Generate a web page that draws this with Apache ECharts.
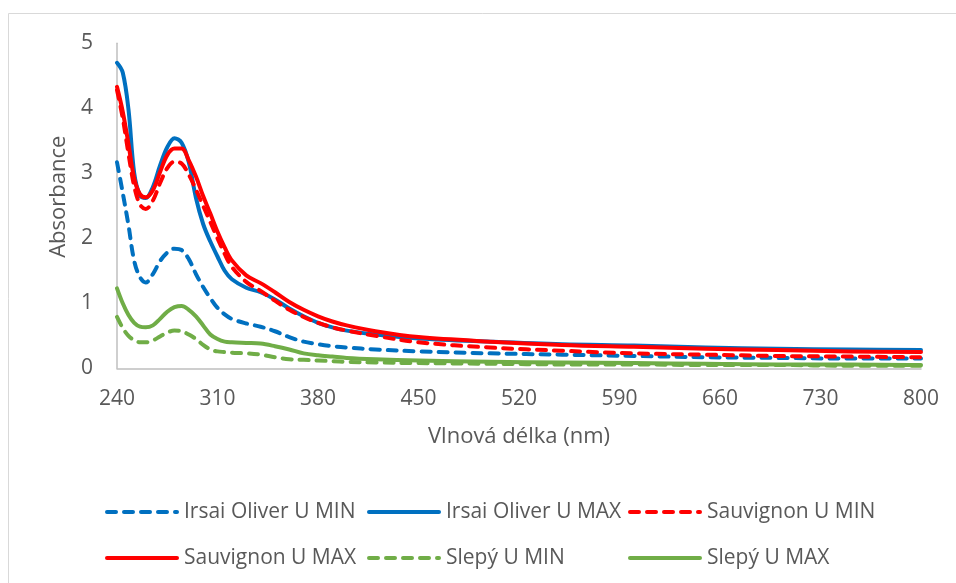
<!DOCTYPE html>
<html>
<head>
<meta charset="utf-8">
<script src="https://cdn.jsdelivr.net/npm/echarts@6/dist/echarts.min.js"></script>
<style>html,body{margin:0;padding:0;background:#fff}#c{width:956px;height:583px}</style>
</head>
<body>
<div id="c"></div>
<script>
const wavelengths = [240,244,248,252,256,260,265,270,275,280,285,290,295,300,305,310,315,320,330,340,350,360,370,380,390,400,420,450,500,550,600,650,700,750,800];
const irsaiMin   = [3.17,2.70,2.20,1.65,1.40,1.32,1.45,1.65,1.78,1.84,1.82,1.68,1.45,1.25,1.08,0.93,0.83,0.76,0.69,0.64,0.57,0.48,0.41,0.37,0.34,0.32,0.29,0.26,0.23,0.21,0.19,0.17,0.16,0.15,0.15];
const irsaiMax   = [4.70,4.55,3.98,3.00,2.66,2.62,2.79,3.12,3.40,3.54,3.47,3.17,2.62,2.22,1.95,1.72,1.50,1.37,1.24,1.17,1.06,0.92,0.80,0.70,0.63,0.58,0.52,0.46,0.41,0.37,0.35,0.32,0.30,0.29,0.28];
const sauvMin    = [4.28,3.85,3.30,2.80,2.52,2.45,2.58,2.85,3.08,3.18,3.15,2.98,2.75,2.50,2.25,2.00,1.76,1.56,1.33,1.19,1.04,0.90,0.79,0.70,0.63,0.58,0.50,0.40,0.32,0.27,0.23,0.21,0.19,0.18,0.17];
const sauvMax    = [4.33,3.95,3.45,2.92,2.68,2.63,2.74,3.02,3.28,3.38,3.38,3.20,2.95,2.65,2.38,2.10,1.86,1.66,1.43,1.31,1.17,1.02,0.90,0.80,0.72,0.66,0.57,0.48,0.41,0.36,0.33,0.30,0.28,0.26,0.25];
const slepyMin   = [0.79,0.62,0.50,0.43,0.40,0.40,0.43,0.49,0.55,0.58,0.57,0.52,0.45,0.36,0.29,0.26,0.25,0.24,0.23,0.21,0.17,0.14,0.13,0.12,0.11,0.10,0.09,0.08,0.07,0.06,0.06,0.05,0.05,0.04,0.04];
const slepyMax   = [1.23,1.00,0.82,0.70,0.64,0.63,0.66,0.76,0.87,0.94,0.96,0.90,0.80,0.66,0.52,0.45,0.41,0.40,0.39,0.38,0.34,0.29,0.23,0.20,0.18,0.16,0.14,0.12,0.10,0.09,0.08,0.07,0.06,0.06,0.05];
const xTicks = [240,310,380,450,520,590,660,730,800];
const names = ['Irsai Oliver U MIN','Irsai Oliver U MAX','Sauvignon U MIN','Sauvignon U MAX','Slepý U MIN','Slepý U MAX'];

const BLUE='#0070C0', RED='#FF0000', GREEN='#70AD47', TXT='#595959', FONT='Open Sans';
function pairs(v){ return wavelengths.map((w,i)=>[w,v[i]]); }
function ser(name, vals, color, dashed){
  return {name, type:'line', data:pairs(vals), smooth:0.35, showSymbol:false, symbol:'none',
    lineStyle:{color, width:4, type: dashed?[9,8]:'solid', cap:'round', join:'round'},
    itemStyle:{color}, emphasis:{disabled:true}, z: dashed?3:2};
}
function legendAt(left, data){
  return {orient:'vertical', left, top:500, padding:0, data, itemWidth:70, itemHeight:14, itemGap:22,
    itemStyle:{opacity:0}, lineStyle:{width:4, cap:'round'},
    textStyle:{color:TXT, fontFamily:FONT, fontSize:21, lineHeight:24, padding:[0,0,0,2]}, selectedMode:false};
}
const chart = echarts.init(document.getElementById('c'));
chart.setOption({
  animation:false,
  backgroundColor:'#fff',
  graphic:[{type:'rect', shape:{x:8.5,y:13.5,width:1000,height:700}, style:{fill:'transparent', stroke:'#d9d9d9', lineWidth:1}, silent:true, z:-10}],
  grid:{left:117, right:35, top:43.3, bottom:214.7, containLabel:false},
  xAxis:{type:'value', min:240, max:800,
    name:'Vlnová délka (nm)', nameLocation:'middle', nameGap:57,
    nameTextStyle:{color:TXT, fontFamily:FONT, fontSize:22},
    axisLine:{show:true, lineStyle:{color:'#bfbfbf', width:1.5}},
    axisTick:{show:false},
    splitLine:{show:false},
    axisLabel:{customValues:xTicks, color:TXT, fontFamily:FONT, fontSize:21, margin:20}},
  yAxis:{type:'value', min:0, max:5, interval:1,
    name:'Absorbance', nameLocation:'middle', nameGap:47,
    nameTextStyle:{color:TXT, fontFamily:FONT, fontSize:22, padding:[0,0,0,18]},
    axisLine:{show:true, lineStyle:{color:'#bfbfbf', width:1.5}},
    axisTick:{show:false}, splitLine:{show:false},
    axisLabel:{color:TXT, fontFamily:FONT, fontSize:21, margin:24}},
  legend:[
    legendAt(105, [names[0], names[3]]),
    legendAt(367, [names[1], names[4]]),
    legendAt(628, [names[2], names[5]])
  ],
  series:[
    ser(names[0], irsaiMin, BLUE, true),
    ser(names[1], irsaiMax, BLUE, false),
    ser(names[2], sauvMin, RED, true),
    ser(names[3], sauvMax, RED, false),
    ser(names[4], slepyMin, GREEN, true),
    ser(names[5], slepyMax, GREEN, false)
  ]
});
</script>
</body>
</html>
